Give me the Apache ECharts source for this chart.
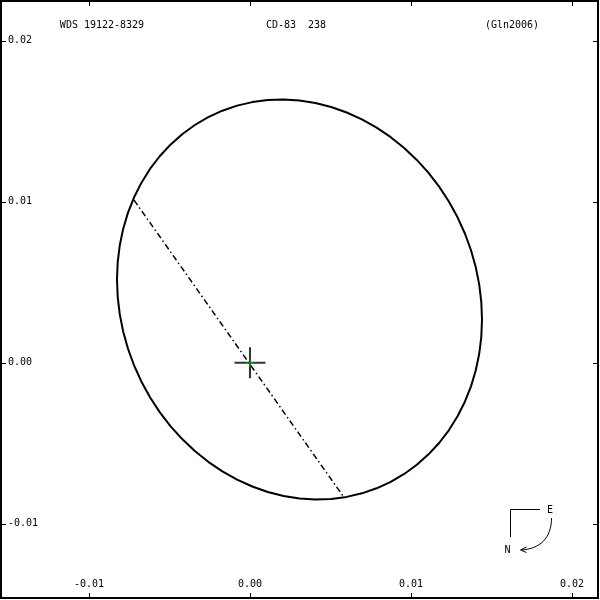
<!DOCTYPE html>
<html>
<head>
<meta charset="utf-8">
<script src="https://cdn.jsdelivr.net/npm/echarts@6/dist/echarts.min.js"></script>
<style>html,body{margin:0;padding:0;background:#fff}#c{width:600px;height:600px}</style>
</head>
<body>
<div id="c"></div>
<script>
// Orbit (relative ellipse)
const orbitX = [0.014410, 0.014367, 0.014238, 0.014024, 0.013727, 0.013348, 0.012891, 0.012360, 0.011758, 0.011090, 0.010361, 0.009577, 0.008742, 0.007865, 0.006952, 0.006008, 0.005042, 0.004063, 0.003075, 0.002086, 0.001107, 0.000141, -0.000802, -0.001716, -0.002593, -0.003427, -0.004212, -0.004941, -0.005609, -0.006211, -0.006742, -0.007199, -0.007578, -0.007875, -0.008089, -0.008218, -0.008261, -0.008218, -0.008089, -0.007875, -0.007578, -0.007199, -0.006742, -0.006211, -0.005609, -0.004941, -0.004212, -0.003427, -0.002593, -0.001716, -0.000802, 0.000141, 0.001107, 0.002086, 0.003075, 0.004063, 0.005042, 0.006008, 0.006952, 0.007865, 0.008742, 0.009577, 0.010361, 0.011090, 0.011758, 0.012360, 0.012891, 0.013348, 0.013727, 0.014024, 0.014238, 0.014367, 0.014410];
const orbitY = [0.002689, 0.001617, 0.000562, -0.000467, -0.001463, -0.002418, -0.003324, -0.004176, -0.004965, -0.005686, -0.006335, -0.006906, -0.007393, -0.007795, -0.008108, -0.008329, -0.008457, -0.008489, -0.008429, -0.008273, -0.008026, -0.007685, -0.007258, -0.006745, -0.006151, -0.005481, -0.004737, -0.003930, -0.003062, -0.002141, -0.001173, -0.000166, 0.000871, 0.001933, 0.003009, 0.004091, 0.005174, 0.006247, 0.007301, 0.008331, 0.009326, 0.010281, 0.011188, 0.012039, 0.012829, 0.013550, 0.014198, 0.014770, 0.015257, 0.015658, 0.015972, 0.016192, 0.016320, 0.016353, 0.016292, 0.016137, 0.015889, 0.015548, 0.015122, 0.014609, 0.014014, 0.013345, 0.012601, 0.011793, 0.010925, 0.010004, 0.009036, 0.008029, 0.006992, 0.005930, 0.004854, 0.003772, 0.002689];
// Line of nodes
const nodeX = [-0.00720, 0.00578];
const nodeY = [0.01010, -0.00828];
// Primary star
const starX = [0];
const starY = [0];
// Ticks
const xTicks = [-0.01, 0.00, 0.01, 0.02];
const yTicks = [-0.01, 0.00, 0.01, 0.02];
const titles = ['WDS 19122-8329', 'CD-83  238', '(Gln2006)'];

const X_MIN = -0.015466, X_MAX = 0.021615;
const Y_MIN = -0.014609, Y_MAX = 0.022472;
const FONT = 'DejaVu Sans Mono';

const orbit = orbitX.map((x, i) => [x, orbitY[i]]);
const nodes = nodeX.map((x, i) => [x, nodeY[i]]);
const star = starX.map((x, i) => [x, starY[i]]);

function xAxisDef(pos, showLabel) {
  return {
    type: 'value', position: pos, min: X_MIN, max: X_MAX,
    axisLine: { show: false, onZero: false }, splitLine: { show: false },
    axisTick: { show: true, inside: true, length: 5, customValues: xTicks, lineStyle: { color: '#000', width: 1 } },
    axisLabel: { show: showLabel, inside: true, margin: 9, customValues: xTicks, color: '#000', fontFamily: FONT, fontSize: 10,
      formatter: v => v.toFixed(2) }
  };
}
function yAxisDef(pos, showLabel) {
  return {
    type: 'value', position: pos, min: Y_MIN, max: Y_MAX,
    axisLine: { show: false, onZero: false }, splitLine: { show: false },
    axisTick: { show: true, inside: true, length: 5, customValues: yTicks, lineStyle: { color: '#000', width: 1 } },
    axisLabel: { show: showLabel, inside: true, margin: 7, customValues: yTicks, color: '#000', fontFamily: FONT, fontSize: 10,
      formatter: v => v.toFixed(2) }
  };
}

const txt = (x, y, t) => ({ type: 'text', silent: true, style: { x: x, y: y, text: t, fill: '#000', font: '10px ' + FONT, textAlign: 'center', textVerticalAlign: 'middle' } });

const chart = echarts.init(document.getElementById('c'), null, { renderer: 'canvas' });
chart.setOption({
  animation: false,
  backgroundColor: '#fff',
  grid: { left: 1, top: 1, width: 597, height: 597, show: true, borderColor: '#000', borderWidth: 2, backgroundColor: 'transparent' },
  xAxis: [xAxisDef('bottom', true), xAxisDef('top', false)],
  yAxis: [yAxisDef('left', true), yAxisDef('right', false)],
  graphic: [
    txt(102, 25, titles[0]),
    txt(296, 25, titles[1]),
    txt(512, 25, titles[2]),
    // compass
    { type: 'polyline', silent: true, shape: { points: [[540, 509.5], [510.5, 509.5], [510.5, 537]] }, style: { stroke: '#000', lineWidth: 1, fill: null } },
    txt(550, 510, 'E'),
    txt(507.5, 550, 'N'),
    { type: 'bezierCurve', silent: true, shape: { x1: 551.5, y1: 518, cpx1: 551.5, cpy1: 538, cpx2: 540, cpy2: 549, x2: 521, y2: 550 }, style: { stroke: '#000', lineWidth: 1, fill: null } },
    { type: 'polyline', silent: true, shape: { points: [[526.5, 547], [520.5, 550], [526.5, 552.5]] }, style: { stroke: '#000', lineWidth: 1, fill: null } }
  ],
  series: [
    {
      type: 'line', data: orbit, smooth: false, showSymbol: false, silent: true,
      lineStyle: { color: '#000', width: 2, join: 'round' }
    },
    {
      type: 'line', data: nodes, showSymbol: false, silent: true,
      lineStyle: { color: '#000', width: 1.5, type: [6, 3, 1.5, 3] }
    },
    {
      type: 'scatter', data: star, silent: true, z: 5,
      symbol: 'path://M-15,-1H15V1H-15Z M-1,-15H1V15H-1Z', symbolSize: 31,
      itemStyle: { color: '#000' }
    },
    {
      type: 'scatter', data: star, silent: true, z: 6,
      symbol: 'path://M-4,-0.5H4V0.5H-4Z M-0.5,-4H0.5V4H-0.5Z', symbolSize: 8,
      itemStyle: { color: '#00c000' }
    }
  ]
});
</script>
</body>
</html>
